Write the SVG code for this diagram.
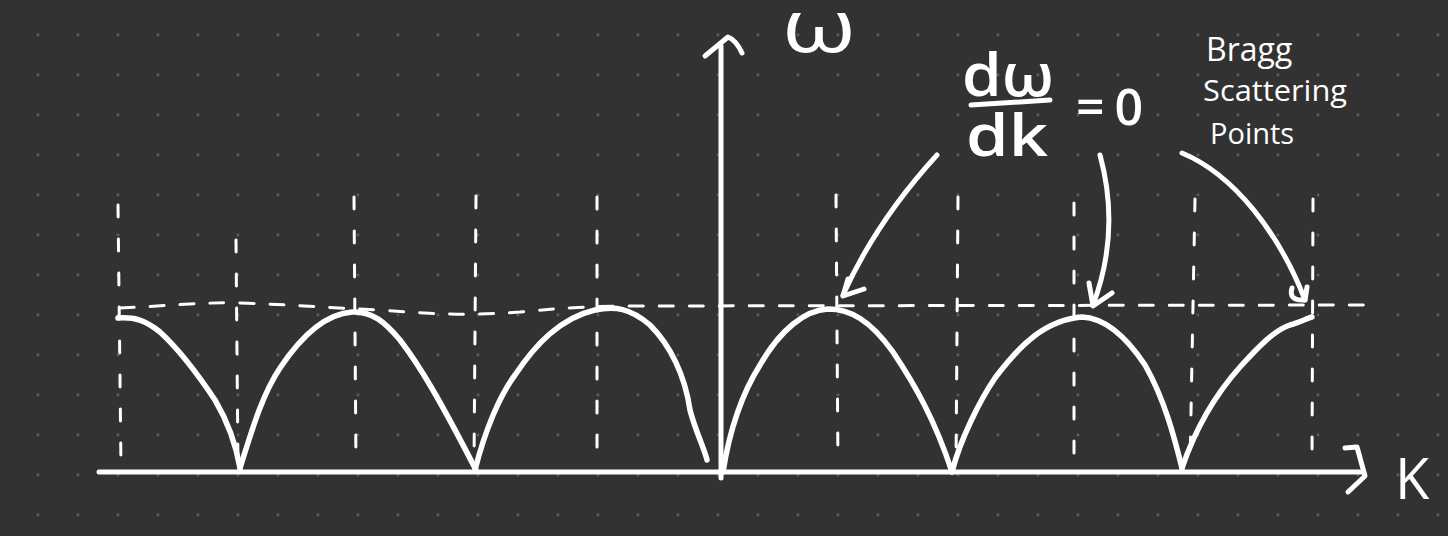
<svg xmlns="http://www.w3.org/2000/svg" width="1448" height="536" viewBox="0 0 1448 536">
<defs>
<pattern id="dots" x="18" y="15" width="40" height="40" patternUnits="userSpaceOnUse">
<circle cx="20" cy="20" r="1.4" fill="#5e5e5e"/>
</pattern>
<style>
.ink{fill:none;stroke:#ffffff;stroke-linecap:round;stroke-linejoin:round}
.axis{stroke-width:5}
.curve{stroke-width:5.5}
.guide{stroke-width:3;stroke-dasharray:12 22}
.hguide{stroke-width:3;stroke-dasharray:14 16}
.arrow{stroke-width:5}
.t{fill:#ffffff;font-family:"Open Sans","Liberation Sans",sans-serif}
.b{font-weight:600}
</style>
</defs>
<rect width="1448" height="536" fill="#323232"/>
<rect width="1448" height="536" fill="url(#dots)"/>

<g id="guides">
<path class="ink hguide" d="M120,308 C170,306 200,302 240,303 C300,305 330,308 380,310 C430,314 470,316 520,312 C560,308 590,306 640,306 L1365,305"/>
<path class="ink guide" d="M118,205 L121,466"/>
<path class="ink guide" d="M236,240 L238,466"/>
<path class="ink guide" d="M354,197 L356,466"/>
<path class="ink guide" d="M476,196 L474,466"/>
<path class="ink guide" d="M597,197 L597,466"/>
<path class="ink guide" d="M836,195 L838,466"/>
<path class="ink guide" d="M958,197 L956,466"/>
<path class="ink guide" d="M1074,203 L1074,466"/>
<path class="ink guide" d="M1195,199 L1190,466"/>
<path class="ink guide" d="M1313,199 L1312,466"/>
</g>

<g id="axes">
<path class="ink axis" d="M99,472 L1363,472"/>
<path class="ink axis" d="M1345,448 L1357,447 L1365,476 L1348,492"/>
<path class="ink axis" d="M721,478 L721,46"/>
<path class="ink axis" d="M705,56 L728,37 Q736,40 742,53"/>
</g>

<g id="dispersion-curve">
<path class="ink curve" d="M118,318 C135,317 145,320 160,332 C185,355 205,385 215,400 C228,422 236,445 240,468"/>
<path class="ink curve" d="M240,468 C252,430 262,395 280,368 C300,338 325,314 352,312 C372,311 385,322 400,340 C420,366 440,400 476,470"/>
<path class="ink curve" d="M475,470 C485,430 500,395 515,375 C535,345 560,318 595,310 C615,306 630,308 650,325 C670,345 685,375 690,410 C695,430 705,450 707,460"/>
<path class="ink curve" d="M723,472 C728,440 738,400 760,365 C780,330 805,310 828,309 C850,309 870,320 893,352 C915,385 935,420 952,472"/>
<path class="ink curve" d="M952,472 C960,440 980,400 995,378 C1020,345 1045,320 1082,317 C1105,318 1125,335 1145,365 C1165,400 1175,440 1182,468"/>
<path class="ink curve" d="M1182,468 C1195,430 1215,395 1240,367 C1260,345 1275,330 1290,325 C1300,322 1308,318 1312,317"/>
</g>

<g id="connectors">
<path class="ink arrow" d="M937,155 C905,190 870,235 843,295"/>
<path class="ink arrow" d="M848,279 L843,296 L864,289"/>
<path class="ink arrow" d="M1100,155 C1115,210 1110,260 1093,305"/>
<path class="ink arrow" d="M1089,283 L1093,306 L1112,293"/>
<path class="ink arrow" d="M1182,153 C1235,175 1280,235 1305,300"/>
<path class="ink arrow" d="M1292,288 Q1288,301 1305,300 L1307,287"/>
</g>

<g id="label-omega"><text class="t" x="782" y="52" font-size="74" textLength="74" lengthAdjust="spacingAndGlyphs">ω</text></g>
<g id="label-k"><text class="t" x="1395" y="499" font-size="56">K</text></g>
<g id="label-derivative">
<text class="t b" x="962" y="96" font-size="60" textLength="92" lengthAdjust="spacingAndGlyphs">dω</text>
<path class="ink axis" d="M971,105 L1050,100"/>
<text class="t b" x="966" y="156" font-size="58" textLength="82" lengthAdjust="spacingAndGlyphs">dk</text>
<text class="t b" x="1076" y="125" font-size="50" letter-spacing="10">=0</text>
</g>
<g id="label-bragg">
<text class="t" x="1206" y="61" font-size="32">Bragg</text>
<text class="t" x="1203" y="101" font-size="30" textLength="144" lengthAdjust="spacingAndGlyphs">Scattering</text>
<text class="t" x="1210" y="144" font-size="29">Points</text>
</g>
</svg>
